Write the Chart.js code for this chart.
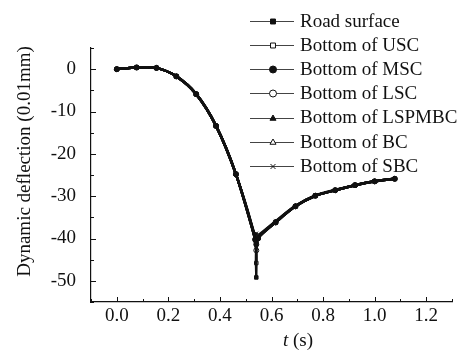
<!DOCTYPE html>
<html>
<head>
<meta charset="utf-8">
<script src="https://cdn.jsdelivr.net/npm/chart.js@4/dist/chart.umd.min.js"></script>
<style>
  html, body { margin: 0; padding: 0; background: #fff; }
</style>
</head>
<body>
<canvas id="c" width="464" height="358"></canvas>
<script>
// time (s)
const tValues = [0, 0.077, 0.154, 0.231, 0.308, 0.385, 0.462, 0.537, 0.541, 0.548, 0.616, 0.693, 0.77, 0.847, 0.924, 1.0, 1.078];

// dynamic deflection (0.01mm) for each layer
const roadSurface = [0, 0.4, 0.3, -1.7, -5.9, -13.4, -24.8, -40.4, -49.2, -40.0, -36.2, -32.4, -29.9, -28.6, -27.4, -26.5, -25.9];
const bottomUSC   = [0, 0.4, 0.3, -1.7, -5.9, -13.4, -24.8, -40.4, -45.8, -40.0, -36.2, -32.4, -29.9, -28.6, -27.4, -26.5, -25.9];
const bottomMSC   = [0, 0.4, 0.3, -1.7, -5.9, -13.4, -24.8, -40.2, -41.4, -39.9, -36.2, -32.4, -29.9, -28.6, -27.4, -26.5, -25.9];
const bottomLSC   = [0, 0.4, 0.3, -1.7, -5.9, -13.4, -24.8, -40.3, -42.8, -39.9, -36.2, -32.4, -29.9, -28.6, -27.4, -26.5, -25.9];
const bottomLSPMBC= [0, 0.4, 0.3, -1.7, -5.9, -13.4, -24.8, -40.1, -40.8, -39.8, -36.1, -32.4, -29.9, -28.6, -27.4, -26.5, -25.9];
const bottomBC    = [0, 0.4, 0.3, -1.7, -5.9, -13.4, -24.8, -39.8, -39.9, -39.6, -36.0, -32.3, -29.9, -28.6, -27.4, -26.5, -25.9];
const bottomSBC   = [0, 0.4, 0.3, -1.7, -5.9, -13.4, -24.8, -39.4, -38.8, -39.2, -35.9, -32.3, -29.8, -28.5, -27.4, -26.5, -25.9];

const seriesLabels = ['Road surface', 'Bottom of USC', 'Bottom of MSC', 'Bottom of LSC',
                      'Bottom of LSPMBC', 'Bottom of BC', 'Bottom of SBC'];
const seriesValues = [roadSurface, bottomUSC, bottomMSC, bottomLSC, bottomLSPMBC, bottomBC, bottomSBC];
const markerStyles = ['rect', 'rect', 'circle', 'circle', 'triangle', 'triangle', 'crossRot'];
const markerFilled = [true, false, true, false, true, false, true];

const xTicks = [0, 0.2, 0.4, 0.6, 0.8, 1.0, 1.2];
const xMinorTicks = [-0.1, 0.1, 0.3, 0.5, 0.7, 0.9, 1.1, 1.3];
const yTicks = [0, -10, -20, -30, -40, -50];
const yMinorTicks = [5, -5, -15, -25, -35, -45, -55];

const FONT = '"Liberation Serif", "Times New Roman", serif';
const INK = '#111';

const datasets = seriesLabels.map((label, i) => ({
  label: label,
  data: tValues.map((t, j) => ({ x: t, y: seriesValues[i][j] })),
  borderColor: INK,
  borderWidth: 2.5,
  tension: 0.3,
  pointStyle: markerStyles[i],
  pointRadius: 2.5,
  pointBorderWidth: 1,
  pointBorderColor: INK,
  pointBackgroundColor: markerFilled[i] ? INK : '#fff',
  fill: false
}));

// inner ticks, axis titles and the legend
const extras = {
  id: 'extras',
  afterDraw(chart) {
    const ctx = chart.ctx;
    const xs = chart.scales.x, ys = chart.scales.y;
    const area = chart.chartArea;
    ctx.save();
    ctx.strokeStyle = INK;
    ctx.lineWidth = 1;
    ctx.beginPath();
    xTicks.forEach(v => { const p = Math.round(xs.getPixelForValue(v)) + 0.5; ctx.moveTo(p, area.bottom); ctx.lineTo(p, area.bottom - 5); });
    xMinorTicks.forEach(v => { const p = Math.round(xs.getPixelForValue(v)) + 0.5; ctx.moveTo(p, area.bottom); ctx.lineTo(p, area.bottom - 3); });
    yTicks.forEach(v => { const p = Math.round(ys.getPixelForValue(v)) + 0.5; ctx.moveTo(area.left, p); ctx.lineTo(area.left + 5, p); });
    yMinorTicks.forEach(v => { const p = Math.round(ys.getPixelForValue(v)) + 0.5; ctx.moveTo(area.left, p); ctx.lineTo(area.left + 3, p); });
    ctx.stroke();

    // axis titles
    ctx.fillStyle = INK;
    ctx.textBaseline = 'middle';
    ctx.font = 'italic 19px ' + FONT;
    ctx.textAlign = 'left';
    ctx.fillText('t', 283, 341);
    const tw = ctx.measureText('t').width;
    ctx.font = '19px ' + FONT;
    ctx.fillText(' (s)', 283 + tw, 341);

    ctx.save();
    ctx.translate(25, 161.5);
    ctx.rotate(-Math.PI / 2);
    ctx.textAlign = 'center';
    ctx.font = '19px ' + FONT;
    ctx.fillText('Dynamic deflection (0.01mm)', 0, 0);
    ctx.restore();

    // legend
    chart.data.datasets.forEach((ds, i) => {
      const y = 20.7 + i * 24.2;
      ctx.strokeStyle = '#444';
      ctx.lineWidth = 1;
      ctx.beginPath();
      ctx.moveTo(250, Math.round(y) + 0.5);
      ctx.lineTo(294, Math.round(y) + 0.5);
      ctx.stroke();
      ctx.fillStyle = ds.pointBackgroundColor;
      ctx.strokeStyle = INK;
      Chart.helpers.drawPoint(ctx, { pointStyle: ds.pointStyle, radius: 3.5, rotation: 0, borderWidth: 1 }, 273, Math.round(y) + 0.5);
      ctx.fillStyle = INK;
      ctx.font = '19px ' + FONT;
      ctx.textAlign = 'left';
      ctx.textBaseline = 'middle';
      ctx.fillText(ds.label, 300, y + 1);
    });
    ctx.restore();
  }
};

new Chart(document.getElementById('c'), {
  type: 'line',
  data: { datasets: datasets },
  options: {
    responsive: false,
    animation: false,
    layout: { padding: { top: 48, right: 12, left: 0, bottom: 0 } },
    plugins: { legend: { display: false }, tooltip: { enabled: false } },
    scales: {
      x: {
        type: 'linear',
        min: -0.1,
        max: 1.3,
        afterBuildTicks: s => { s.ticks = xTicks.map(v => ({ value: v })); },
        afterFit: s => { s.height = 56; },
        grid: { display: false },
        border: { display: true, color: INK, width: 1.2 },
        ticks: { color: INK, font: { family: FONT, size: 19 }, padding: -5, maxRotation: 0,
                 callback: v => v.toFixed(1) }
      },
      y: {
        type: 'linear',
        min: -55,
        max: 5,
        afterBuildTicks: s => { s.ticks = yTicks.map(v => ({ value: v })); },
        afterFit: s => { s.width = 91; },
        grid: { display: false },
        border: { display: true, color: INK, width: 1.2 },
        ticks: { color: INK, font: { family: FONT, size: 19 }, padding: 7 }
      }
    }
  },
  plugins: [extras]
});
</script>
</body>
</html>
